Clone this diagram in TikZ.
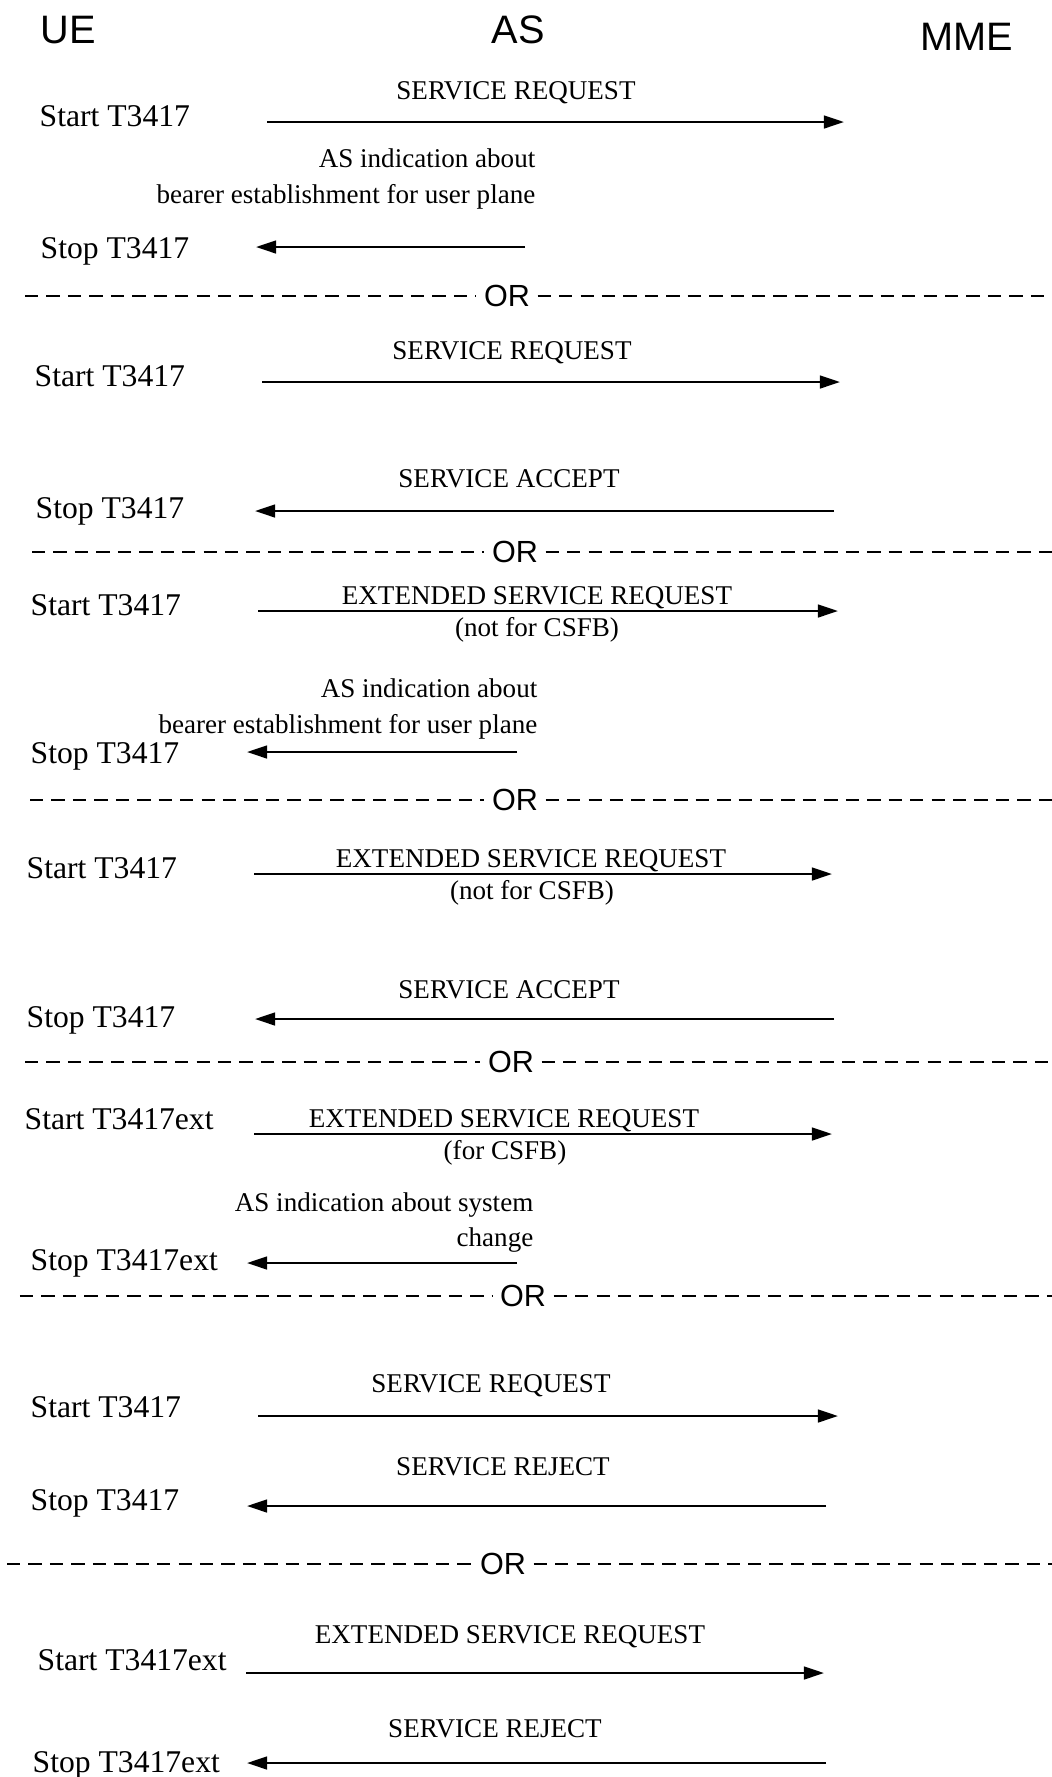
\documentclass[tikz,border=0pt]{standalone}
\usepackage{fontspec}
\setmainfont{Liberation Serif}
\newfontfamily\headfont{Liberation Sans}
\usetikzlibrary{arrows.meta}

\newcommand{\orline}[4]{
    % separator: #1 name, #2 y, #3 x of the OR, #4 left end of the dashes
    \node[orlabel] (#1) at (#3,#2) {OR};
    \coordinate (#1-l) at (#4,#2);
    \coordinate (#1-r) at (10.52,#2);
    \draw[orsep] (#1-l) -- (#1.west);
    \draw[orsep] (#1.east) -- (#1-r);
}

\newcommand{\msg}[4]{
    % message arrow: #1 name, #2 y, #3 start x, #4 end x
    \coordinate (#1-s) at (#3,#2);
    \coordinate (#1-e) at (#4,#2);
    \draw[msgarrow] (#1-s) -- (#1-e);
}

\begin{document}
\begin{tikzpicture}[
    entity/.style={inner sep=0pt, font=\headfont\fontsize{11.3}{13.5}\selectfont},
    timer/.style={inner sep=0pt, anchor=base west, font=\fontsize{9}{11}\selectfont},
    msglabel/.style={inner sep=0pt, anchor=base, font=\fontsize{7.7}{9.5}\selectfont},
    aslabel/.style={inner sep=0pt, anchor=base east, font=\fontsize{7.7}{9.5}\selectfont},
    orlabel/.style={inner ysep=0pt, inner xsep=2pt, font=\headfont\fontsize{8.7}{10}\selectfont},
    orsep/.style={line width=0.45pt, dash pattern=on 3.8pt off 2.3pt},
    msgarrow/.style={line width=0.7pt, -{Triangle[length=5.7pt,width=3.6pt]}}
]
    \useasboundingbox (0,0) rectangle (10.52,-17.77);

%  \draw[step=1cm, gray!30, ultra thin] (0,-18) grid (11,0);

    % entities
    \node[entity, anchor=base west] (ue) at (0.40,-0.43) {UE};
    \node[entity, anchor=base] (as) at (5.18,-0.43) {AS};
    \node[entity, anchor=base] (mme) at (9.67,-0.50) {MME};

    % service request, AS indication
    \node[timer] (start1) at (0.39,-1.26) {Start T3417};
    \node[msglabel] (req1) at (5.16,-0.99) {SERVICE REQUEST};
    \msg{m1}{-1.22}{2.67}{8.44}
    \node[aslabel] (ind1a) at (5.36,-1.67) {AS indication about};
    \node[aslabel] (ind1b) at (5.36,-2.03) {bearer establishment for user plane};
    \node[timer] (stop1) at (0.40,-2.58) {Stop T3417};
    \msg{m2}{-2.47}{5.25}{2.56}
    \orline{or1}{-2.96}{5.07}{0.25}

    % service request, service accept
    \node[msglabel] (req2) at (5.12,-3.59) {SERVICE REQUEST};
    \node[timer] (start2) at (0.34,-3.86) {Start T3417};
    \msg{m3}{-3.82}{2.62}{8.40}
    \node[msglabel] (acc2) at (5.09,-4.87) {SERVICE ACCEPT};
    \node[timer] (stop2) at (0.35,-5.18) {Stop T3417};
    \msg{m4}{-5.11}{8.34}{2.55}
    \orline{or2}{-5.52}{5.15}{0.32}

    % extended service request, AS indication
    \node[msglabel] (ext3) at (5.37,-6.04) {EXTENDED SERVICE REQUEST};
    \node[timer] (start3) at (0.30,-6.15) {Start T3417};
    \msg{m5}{-6.11}{2.58}{8.38}
    \node[msglabel] (csfb3) at (5.37,-6.36) {(not for CSFB)};
    \node[aslabel] (ind3a) at (5.38,-6.97) {AS indication about};
    \node[aslabel] (ind3b) at (5.38,-7.33) {bearer establishment for user plane};
    \node[timer] (stop3) at (0.30,-7.63) {Stop T3417};
    \msg{m6}{-7.52}{5.17}{2.47}
    \orline{or3}{-8.00}{5.15}{0.30}

    % extended service request, service accept
    \node[msglabel] (ext4) at (5.31,-8.67) {EXTENDED SERVICE REQUEST};
    \node[timer] (start4) at (0.26,-8.78) {Start T3417};
    \msg{m7}{-8.74}{2.54}{8.32}
    \node[msglabel] (csfb4) at (5.32,-8.99) {(not for CSFB)};
    \node[msglabel] (acc4) at (5.09,-9.98) {SERVICE ACCEPT};
    \node[timer] (stop4) at (0.26,-10.27) {Stop T3417};
    \msg{m8}{-10.19}{8.34}{2.55}
    \orline{or4}{-10.62}{5.11}{0.25}

    % extended service request for CSFB, system change
    \node[timer] (start5) at (0.24,-11.29) {Start T3417ext};
    \node[msglabel] (ext5) at (5.04,-11.27) {EXTENDED SERVICE REQUEST};
    \msg{m9}{-11.34}{2.54}{8.32}
    \node[msglabel] (csfb5) at (5.05,-11.59) {(for CSFB)};
    \node[aslabel] (ind5a) at (5.34,-12.11) {AS indication about system};
    \node[aslabel] (ind5b) at (5.34,-12.46) {change};
    \node[timer] (stop5) at (0.30,-12.70) {Stop T3417ext};
    \msg{m10}{-12.63}{5.17}{2.47}
    \orline{or5}{-12.96}{5.23}{0.20}

    % service request, service reject
    \node[msglabel] (req6) at (4.91,-13.92) {SERVICE REQUEST};
    \node[timer] (start6) at (0.30,-14.17) {Start T3417};
    \msg{m11}{-14.16}{2.58}{8.38}
    \node[msglabel] (rej6) at (5.03,-14.75) {SERVICE REJECT};
    \node[timer] (stop6) at (0.30,-15.10) {Stop T3417};
    \msg{m12}{-15.06}{8.26}{2.47}
    \orline{or6}{-15.64}{5.03}{0.07}

    % extended service request, service reject
    \node[msglabel] (ext7) at (5.10,-16.43) {EXTENDED SERVICE REQUEST};
    \node[timer] (start7) at (0.37,-16.70) {Start T3417ext};
    \msg{m13}{-16.73}{2.46}{8.24}
    \node[msglabel] (rej7) at (4.95,-17.37) {SERVICE REJECT};
    \node[timer] (stop7) at (0.32,-17.72) {Stop T3417ext};
    \msg{m14}{-17.63}{8.26}{2.47}
\end{tikzpicture}
\end{document}
